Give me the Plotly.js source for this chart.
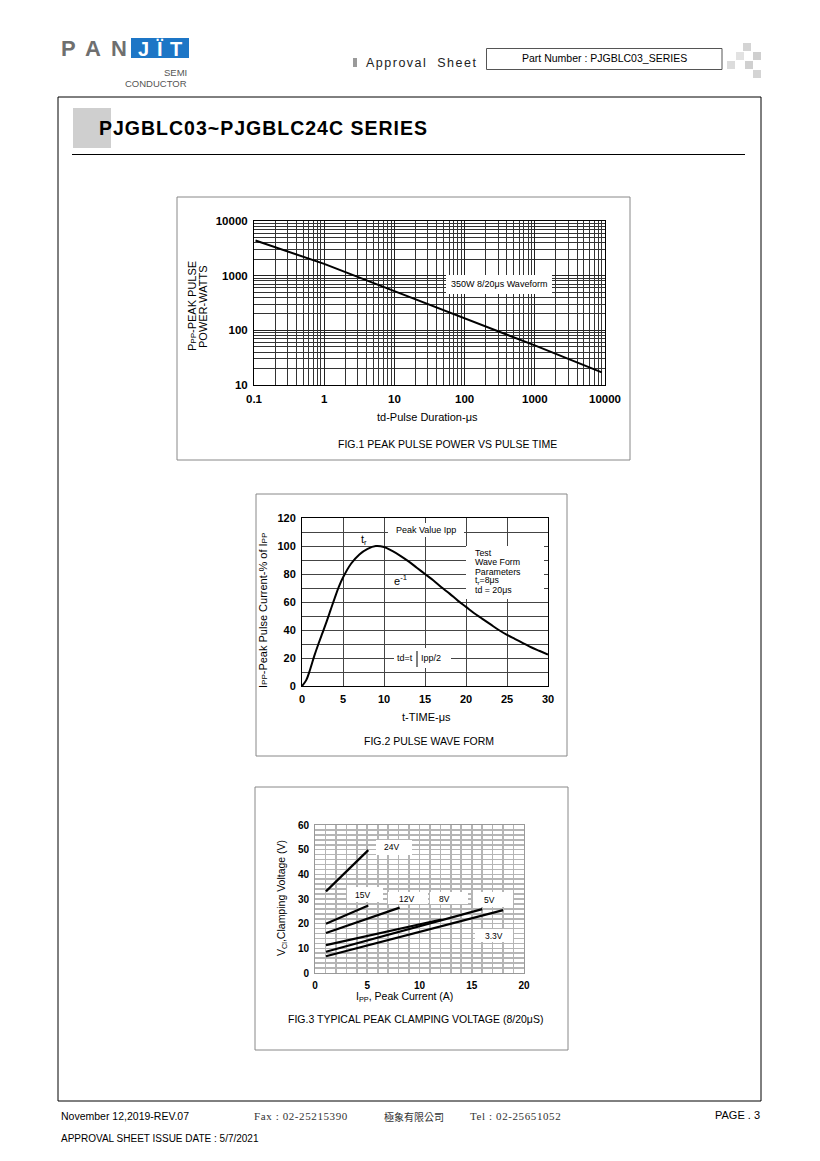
<!DOCTYPE html>
<html><head><meta charset="utf-8">
<script src="https://cdn.plot.ly/plotly-3.0.1.min.js"></script>
<style>html,body{margin:0;padding:0;background:#fff}#chart{width:820px;height:1161px}</style>
</head><body><div id="chart"></div>
<script>
// ---------- FIG.1 PEAK PULSE POWER VS PULSE TIME ----------
const pulseDurationUs = [0.105, 1, 10, 100, 1000, 9000];
const peakPulsePowerW = [4400, 1640, 520, 165, 53, 17];
const fig1XTicks = [0.1, 1, 10, 100, 1000, 10000];
const fig1XTickText = ['0.1', '1', '10', '100', '1000', '10000'];
const fig1YTicks = [10, 100, 1000, 10000];
const fig1YTickText = ['10', '100', '1000', '10000'];

// ---------- FIG.2 PULSE WAVE FORM ----------
const timeUs = [0, 0.5, 1, 1.5, 2, 2.5, 3, 3.5, 4, 4.5, 5, 6, 7, 8, 9, 10, 11, 12, 13, 14, 15,
                16, 17, 18, 19, 20, 21, 22, 23, 24, 25, 26, 27, 28, 29, 30];
const pulseCurrentPct = [0, 4, 12, 21.5, 30, 38, 46, 54.5, 63, 71, 77.5, 87.5, 94, 98, 100, 99.3, 96.5, 93, 89, 84.5, 80,
                75.5, 70.5, 66, 61, 56.5, 52, 48, 44, 40, 36.5, 33.5, 30.5, 27.5, 25, 22.5];
const fig2XTicks = [0, 5, 10, 15, 20, 25, 30];
const fig2YTicks = [0, 20, 40, 60, 80, 100, 120];

// ---------- FIG.3 TYPICAL PEAK CLAMPING VOLTAGE ----------
const fig3Labels = ['24V', '15V', '12V', '8V', '5V', '3.3V'];
const ipp24V = [1.05, 5.1],  vc24V = [33.1, 49.8];
const ipp15V = [1.05, 5.1],  vc15V = [20.0, 27.4];
const ipp12V = [1.05, 8.1],  vc12V = [16.2, 26.5];
const ipp8V  = [1.05, 12.1], vc8V  = [11.3, 21.7];
const ipp5V  = [1.05, 16.0], vc5V  = [8.6, 25.9];
const ipp33V = [1.05, 18.0], vc33V = [6.8, 25.5];
const fig3XTicks = [0, 5, 10, 15, 20];
const fig3YTicks = [0, 10, 20, 30, 40, 50, 60];

// ---------- helpers ----------
const W = 820, H = 1161;
const X = px => px / W, Y = py => 1 - py / H;
const FONT = 'Arial, "Liberation Sans", Helvetica, sans-serif';
function txt(px, py, text, size, opt) {
  const o = Object.assign({xref: 'paper', yref: 'paper', x: X(px), y: Y(py), text: text, showarrow: false,
    xanchor: 'center', yanchor: 'middle', font: {family: FONT, size: size, color: '#000'}}, opt || {});
  if (opt && opt.font) o.font = Object.assign({family: FONT, size: size, color: '#000'}, opt.font);
  return o;
}
function rect(x0, y0, x1, y1, opt) {
  return Object.assign({type: 'rect', xref: 'paper', yref: 'paper', x0: X(x0), x1: X(x1), y0: Y(y0), y1: Y(y1),
    line: {color: '#000', width: 1}}, opt || {});
}
function line(x0, y0, x1, y1, opt) {
  return Object.assign({type: 'line', xref: 'paper', yref: 'paper', x0: X(x0), x1: X(x1), y0: Y(y0), y1: Y(y1),
    line: {color: '#000', width: 1}}, opt || {});
}

const lineStyle = {color: '#000', width: 2.2};
const traces = [
  {x: pulseDurationUs, y: peakPulsePowerW, xaxis: 'x', yaxis: 'y', mode: 'lines', line: {color: '#000', width: 2}},
  {x: timeUs, y: pulseCurrentPct, xaxis: 'x2', yaxis: 'y2', mode: 'lines', line: {color: '#000', width: 2, shape: 'spline', smoothing: 1}},
  {x: ipp24V, y: vc24V, xaxis: 'x3', yaxis: 'y3', mode: 'lines', line: lineStyle, name: fig3Labels[0]},
  {x: ipp15V, y: vc15V, xaxis: 'x3', yaxis: 'y3', mode: 'lines', line: lineStyle, name: fig3Labels[1]},
  {x: ipp12V, y: vc12V, xaxis: 'x3', yaxis: 'y3', mode: 'lines', line: lineStyle, name: fig3Labels[2]},
  {x: ipp8V,  y: vc8V,  xaxis: 'x3', yaxis: 'y3', mode: 'lines', line: lineStyle, name: fig3Labels[3]},
  {x: ipp5V,  y: vc5V,  xaxis: 'x3', yaxis: 'y3', mode: 'lines', line: lineStyle, name: fig3Labels[4]},
  {x: ipp33V, y: vc33V, xaxis: 'x3', yaxis: 'y3', mode: 'lines', line: lineStyle, name: fig3Labels[5]}
];

const axBase = {showline: true, mirror: true, linecolor: '#000', linewidth: 1, zeroline: false,
  ticks: 'outside', ticklen: 3, tickcolor: 'rgba(0,0,0,0)', fixedrange: true, tickmode: 'array'};
const tf = s => ({family: FONT, size: s, color: '#000', weight: 'bold'});

const layout = {
  width: W, height: H, margin: {l: 0, r: 0, t: 0, b: 0}, paper_bgcolor: '#fff', plot_bgcolor: '#fff',
  showlegend: false,
  xaxis: Object.assign({}, axBase, {domain: [X(254), X(605)], anchor: 'y', type: 'log', range: [-1, 4],
    tickvals: fig1XTicks, ticktext: fig1XTickText, tickfont: tf(11.5), showgrid: true, gridcolor: '#222', gridwidth: 1,
    minor: {dtick: 'D1', showgrid: true, gridcolor: '#333', gridwidth: 1, ticks: ''}}),
  yaxis: Object.assign({}, axBase, {domain: [Y(385), Y(221)], anchor: 'x', type: 'log', range: [1, 4],
    tickvals: fig1YTicks, ticktext: fig1YTickText, tickfont: tf(11.5), showgrid: true, gridcolor: '#222', gridwidth: 1,
    minor: {dtick: 'D1', showgrid: true, gridcolor: '#333', gridwidth: 1, ticks: ''}}),
  xaxis2: Object.assign({}, axBase, {domain: [X(302), X(548)], anchor: 'y2', range: [0, 30],
    tickvals: fig2XTicks, tickfont: tf(11), showgrid: true, gridcolor: '#444', gridwidth: 1}),
  yaxis2: Object.assign({}, axBase, {domain: [Y(686), Y(518)], anchor: 'x2', range: [0, 120],
    tickvals: fig2YTicks, tickfont: tf(11), showgrid: true, gridcolor: '#444', gridwidth: 1,
    minor: {dtick: 10, tick0: 0, showgrid: true, gridcolor: '#444', gridwidth: 1, ticks: ''}}),
  xaxis3: Object.assign({}, axBase, {domain: [X(315), X(524)], anchor: 'y3', range: [0, 20], linecolor: '#999',
    tickvals: fig3XTicks, tickfont: tf(10), showgrid: true, gridcolor: '#b5b5b5', gridwidth: 1.6,
    minor: {dtick: 1, tick0: 0, showgrid: true, gridcolor: '#b5b5b5', gridwidth: 1.6, ticks: ''}}),
  yaxis3: Object.assign({}, axBase, {domain: [Y(973), Y(825)], anchor: 'x3', range: [0, 60], linecolor: '#999',
    tickvals: fig3YTicks, tickfont: tf(10), showgrid: true, gridcolor: '#b5b5b5', gridwidth: 1.6,
    minor: {dtick: 2, tick0: 0, showgrid: true, gridcolor: '#b5b5b5', gridwidth: 1.6, ticks: ''}}),
  shapes: [],
  annotations: []
};

const S = layout.shapes, A = layout.annotations;
// page frame & header
S.push(rect(58, 97, 761, 1101, {line: {color: '#000', width: 1}}));
S.push(rect(73, 108, 111, 148, {fillcolor: '#cfcfcf', line: {width: 0}, layer: 'below'}));
S.push(line(72, 154.5, 745, 154.5, {line: {color: '#000', width: 1.2}}));
S.push(rect(486.5, 48.5, 722, 69.5, {line: {color: '#555', width: 1}}));
S.push(rect(353, 58, 357, 67, {fillcolor: '#9a9a9a', line: {width: 0}}));
[[743, 43, '#d4d4d4'], [736, 52, '#e2e2e2'], [753, 52, '#cfcfcf'], [727, 61, '#dcdcdc'], [745, 61, '#d0d0d0'], [753, 70, '#d4d4d4']]
  .forEach(s => S.push(rect(s[0], s[1], s[0] + 8, s[1] + 8, {fillcolor: s[2], line: {width: 0}})));
S.push(rect(131, 38, 189, 58, {fillcolor: '#1d76c6', line: {width: 0}}));
// figure frames
S.push(rect(177, 197, 630, 460, {line: {color: '#888', width: 1}}));
S.push(rect(256, 494, 567, 756, {line: {color: '#888', width: 1}}));
S.push(rect(255, 787, 568, 1050, {line: {color: '#888', width: 1}}));
// fig3 label boxes
[[376, 840, 412, 855], [347, 887, 383, 902], [388, 892, 428, 904], [430, 892, 468, 904], [473, 892, 513, 907], [475, 929, 513, 942]]
  .forEach(b => S.push(rect(b[0], b[1], b[2], b[3], {fillcolor: '#fff', line: {width: 0}})));
// fig2 boxes
S.push(rect(388, 523, 464, 537, {fillcolor: '#fff', line: {width: 0}}));
S.push(rect(466, 546, 544, 599, {fillcolor: '#fff', line: {width: 0}}));
S.push(rect(394, 648, 451, 668, {fillcolor: '#fff', line: {width: 0}}));
S.push(line(417, 651, 417, 667, {line: {color: '#000', width: 1}}));
// fig1 box
S.push(rect(446, 275, 552, 294, {fillcolor: '#fff', line: {width: 0}}));

// header texts
const logoGrey = {color: '#6f6f6f', weight: 'bold'};
A.push(txt(68, 48.5, 'P', 22, {font: logoGrey}));
A.push(txt(93, 48.5, 'A', 22, {font: logoGrey}));
A.push(txt(119, 48.5, 'N', 22, {font: logoGrey}));
const logoWhite = {color: '#fff', weight: 'bold'};
A.push(txt(143, 49, 'J', 20, {font: logoWhite}));
A.push(txt(159, 49, 'Ï', 20, {font: logoWhite}));
A.push(txt(176, 49, 'T', 20, {font: logoWhite}));
A.push(txt(189, 72.5, 'SEMI', 9.5, {xanchor: 'right', font: {color: '#555'}}));
A.push(txt(189, 84, 'CONDUCTOR', 9.5, {xanchor: 'right', font: {color: '#555'}}));
A.push(txt(364, 62.5, '<span style="letter-spacing:1.5px">Approval  Sheet</span>', 12.5, {xanchor: 'left', font: {color: '#222'}}));
A.push(txt(604, 58, 'Part Number : PJGBLC03_SERIES', 10.5));
A.push(txt(97, 128.5, '<span style="letter-spacing:1px">PJGBLC03~PJGBLC24C SERIES</span>', 19.5, {xanchor: 'left', font: {weight: 'bold'}}));

// fig1 texts
A.push(txt(499, 284.5, '350W 8/20μs Waveform', 9));
A.push(txt(192, 306, 'P<span style="font-size:8px">PP</span>-PEAK PULSE', 11, {textangle: -90}));
A.push(txt(203, 307, 'POWER-WATTS', 11, {textangle: -90}));
A.push(txt(427, 417, 'td-Pulse Duration-μs', 11));
A.push(txt(447, 444, 'FIG.1 PEAK PULSE POWER VS PULSE TIME', 10.5));

// fig2 texts
A.push(txt(426, 529.5, 'Peak Value Ipp', 9));
A.push(txt(364, 540, 't<sub>r</sub>', 11));
A.push(txt(400, 580, 'e<sup>-1</sup>', 11));
['Test', 'Wave Form', 'Parameters', 't<sub>r</sub>=8μs', 'td = 20μs'].forEach((s, i) =>
  A.push(txt(473, 553 + i * 9.3, s, 8.8, {xanchor: 'left'})));
A.push(txt(415, 658, 'td=t', 9, {xanchor: 'right'}));
A.push(txt(419, 658, 'Ipp/2', 9, {xanchor: 'left'}));
A.push(txt(263, 611, 'I<span style="font-size:8px">PP</span>-Peak Pulse Current-% of I<span style="font-size:8px">PP</span>', 11, {textangle: -90}));
A.push(txt(426, 717, 't-TIME-μs', 11));
A.push(txt(428.5, 741, 'FIG.2 PULSE WAVE FORM', 10.5));

// fig3 texts
const fig3LabelPos = [[391, 847], [362, 895], [406, 899], [444, 899], [489, 899.5], [494, 936]];
fig3Labels.forEach((s, i) => A.push(txt(fig3LabelPos[i][0], fig3LabelPos[i][1], s, 8.5)));
A.push(txt(282, 898, 'V<sub>Cl</sub>,Clamping Voltage (V)', 10.5, {textangle: -90}));
A.push(txt(404.5, 997, 'I<sub>PP</sub>, Peak Current (A)', 10.5));
A.push(txt(415, 1018.5, 'FIG.3 TYPICAL PEAK CLAMPING VOLTAGE (8/20μS)', 10.5));

// footer
A.push(txt(59, 1115.5, 'November 12,2019-REV.07', 10.5, {xanchor: 'left'}));
A.push(txt(252, 1116, '<span style="letter-spacing:0.6px">Fax : 02-25215390</span>', 11, {xanchor: 'left', font: {family: '"Liberation Serif", "DejaVu Serif", serif', color: '#333'}}));
A.push(txt(382, 1116, '極象有限公司', 10, {xanchor: 'left', font: {family: '"Noto Sans CJK TC", "Noto Sans CJK SC", sans-serif', color: '#333'}}));
A.push(txt(468, 1116, '<span style="letter-spacing:0.6px">Tel : 02-25651052</span>', 11, {xanchor: 'left', font: {family: '"Liberation Serif", "DejaVu Serif", serif', color: '#333'}}));
A.push(txt(762, 1115, 'PAGE . 3', 11, {xanchor: 'right'}));
A.push(txt(59, 1138, 'APPROVAL SHEET ISSUE DATE : 5/7/2021', 10, {xanchor: 'left'}));

Plotly.newPlot('chart', traces, layout, {displayModeBar: false, staticPlot: true});
</script></body></html>
